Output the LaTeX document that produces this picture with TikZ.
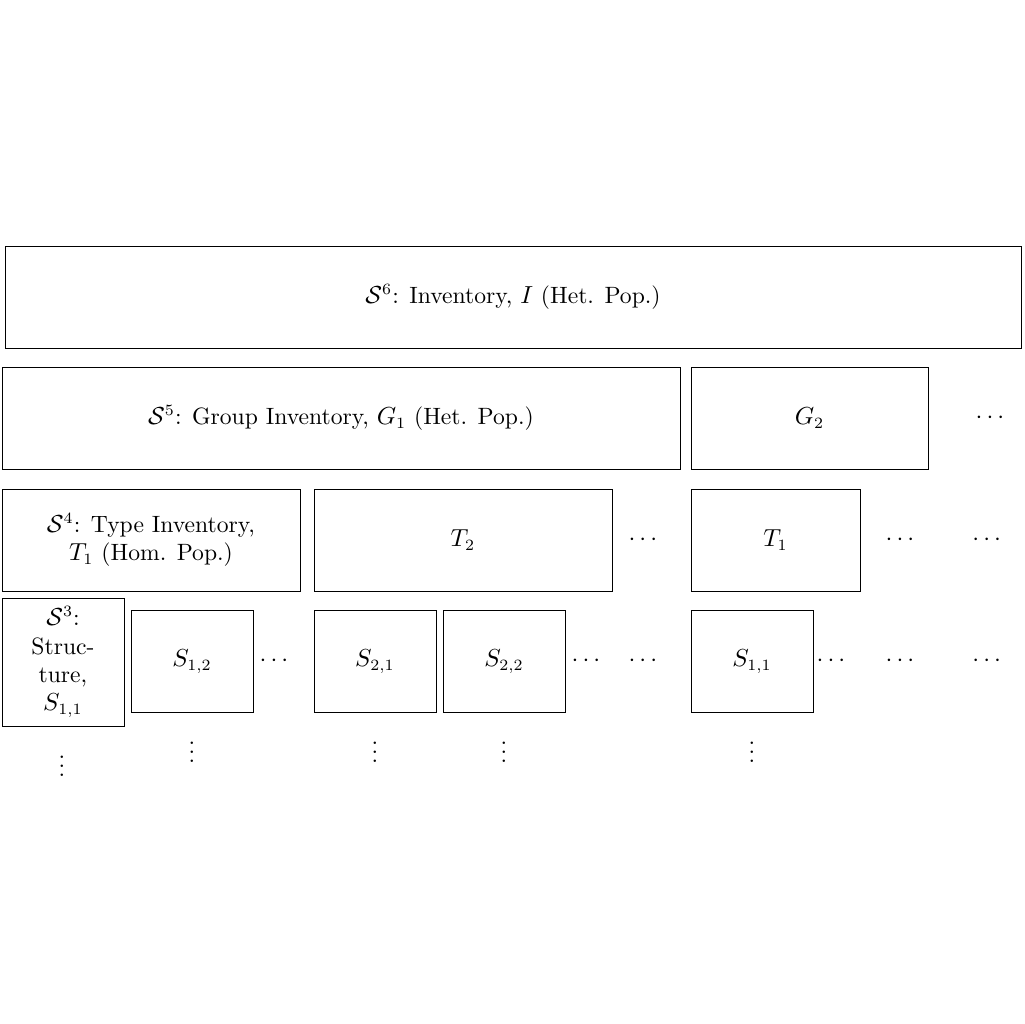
\documentclass[tikz,border=0pt]{standalone}
\usepackage{amsmath}
\usetikzlibrary{positioning}
\tikzset{
	lvl/.style={draw, inner sep=0pt, minimum height=1.594cm, align=center},
	dts/.style={inner sep=0pt}
}

\begin{document}
\begin{tikzpicture}[font=\fontsize{10.5}{12.6}\selectfont]
			%%%%% START %%%%%
			
			\useasboundingbox (0, 0) rectangle (16, -16);
			
			\node[lvl, minimum width=15.875cm] (inv) at (8.016, -4.641) {$\mathcal{S}^6$: Inventory, $I$ (Het. Pop.)};
			
			\node[lvl, minimum width=10.594cm] (g1) at (5.328, -6.531) {$\mathcal{S}^5$: Group Inventory, $G_1$ (Het. Pop.)};
			\node[lvl, minimum width=3.703cm] (g2) at (12.648, -6.531) {$G_2$};
			\node[dts] (gdots) at (15.5, -6.531) {$\cdots$};
			
			\node[lvl, minimum width=4.656cm] (t1) at (2.359, -8.438) {$\mathcal{S}^4$: Type Inventory,\\ $T_1$ (Hom. Pop.)};
			\node[lvl, minimum width=4.656cm] (t2) at (7.234, -8.438) {$T_2$};
			\node[dts] (tdots) at (10.078, -8.438) {$\cdots$};
			\node[lvl, minimum width=2.641cm] (t1b) at (12.117, -8.438) {$T_1$};
			\node[dts] (tdotsb) at (14.094, -8.438) {$\cdots$};
			\node[dts] (tdotsc) at (15.45, -8.438) {$\cdots$};
			
			\node[lvl, minimum width=1.906cm, minimum height=2cm] (s11) at (0.984, -10.344) {$\mathcal{S}^3$:\\ Struc-\\ture,\\ $S_{1,1}$};
			\node[lvl, minimum width=1.906cm, minimum height=1.58cm] (s12) at (3.0, -10.336) {$S_{1,2}$};
			\node[dts] (sdots) at (4.313, -10.336) {$\cdots$};
			\node[lvl, minimum width=1.906cm, minimum height=1.58cm] (s21) at (5.859, -10.336) {$S_{2,1}$};
			\node[lvl, minimum width=1.906cm, minimum height=1.58cm] (s22) at (7.875, -10.336) {$S_{2,2}$};
			\node[dts] (sdotsb) at (9.188, -10.336) {$\cdots$};
			\node[dts] (sdotsc) at (10.078, -10.336) {$\cdots$};
			\node[lvl, minimum width=1.906cm, minimum height=1.58cm] (s11b) at (11.75, -10.336) {$S_{1,1}$};
			\node[dts] (sdotsd) at (13.016, -10.336) {$\cdots$};
			\node[dts] (sdotse) at (14.094, -10.336) {$\cdots$};
			\node[dts] (sdotsf) at (15.45, -10.336) {$\cdots$};
			
			\node[dts] (v1) at (0.969, -11.87) {$\vdots$};
			\node[dts] (v2) at (3.0, -11.65) {$\vdots$};
			\node[dts] (v3) at (5.859, -11.65) {$\vdots$};
			\node[dts] (v4) at (7.875, -11.65) {$\vdots$};
			\node[dts] (v5) at (11.75, -11.65) {$\vdots$};
			
			%%%%% END %%%%%
		\end{tikzpicture}
\end{document}
